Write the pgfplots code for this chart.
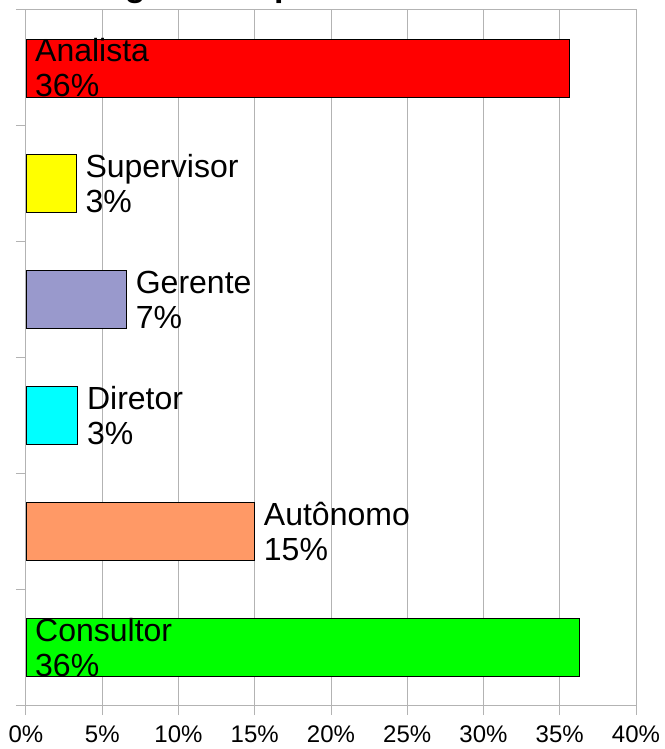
\documentclass[border=0pt]{standalone}
\usepackage{pgfplots}
\pgfplotsset{compat=1.18}
\usepackage{fontspec}
\setmainfont{Liberation Sans}
\definecolor{gridgray}{RGB}{179,179,179}
\definecolor{cSup}{RGB}{255,255,0}
\definecolor{cGer}{RGB}{153,153,204}
\definecolor{cDir}{RGB}{0,255,255}
\definecolor{cAut}{RGB}{255,153,102}
\definecolor{cCon}{RGB}{0,255,0}
\begin{document}
\begin{tikzpicture}
\begin{axis}[
  at={(0,0)}, anchor=south west,
  scale only axis, width=610pt, height=695pt,
  xbar, bar width=58pt,
  xmin=0, xmax=40, ymin=0, ymax=6,
  xtick={0,5,...,40}, ytick={0,1,...,6}, yticklabels={},
  xtick pos=bottom, ytick pos=left,
  xticklabel={\pgfmathprintnumber{\tick}\%},
  /pgf/number format/assume math mode=true,
  tick align=outside, major tick length=10pt,
  tick style={gridgray, line width=1pt},
  axis line style={gridgray, line width=1pt},
  xmajorgrids, grid style={gridgray, line width=1pt},
  ticklabel style={font=\fontsize{24}{28}\selectfont},
  xticklabel style={yshift=-7pt},
  every axis plot/.append style={bar shift=0pt, draw=black, line width=0.8pt},
  clip=false,
]
\addplot[fill=red] coordinates {(35.6,5.5)};
\addplot[fill=cSup] coordinates {(3.3,4.5)};
\addplot[fill=cGer] coordinates {(6.6,3.5)};
\addplot[fill=cDir] coordinates {(3.4,2.5)};
\addplot[fill=cAut] coordinates {(15.0,1.5)};
\addplot[fill=cCon] coordinates {(36.3,0.5)};
\tikzset{lbl/.style={anchor=west, align=left, inner sep=0pt, xshift=9pt, font=\fontsize{32}{35}\selectfont}}
\node[lbl] at (axis cs:0,5.5) {Analista\\36\%};
\node[lbl] at (axis cs:3.3,4.5) {Supervisor\\3\%};
\node[lbl] at (axis cs:6.6,3.5) {Gerente\\7\%};
\node[lbl] at (axis cs:3.4,2.5) {Diretor\\3\%};
\node[lbl] at (axis cs:15.0,1.5) {Autônomo\\15\%};
\node[lbl] at (axis cs:0,0.5) {Consultor\\36\%};
\end{axis}
\node[anchor=base west, inner sep=0pt, font=\fontsize{34}{40}\selectfont\bfseries] at (42pt,708pt) {Cargo na empresa};
\pgfresetboundingbox
\path[use as bounding box] (-26pt,-44pt) rectangle (638pt,705pt);
\end{tikzpicture}
\end{document}
